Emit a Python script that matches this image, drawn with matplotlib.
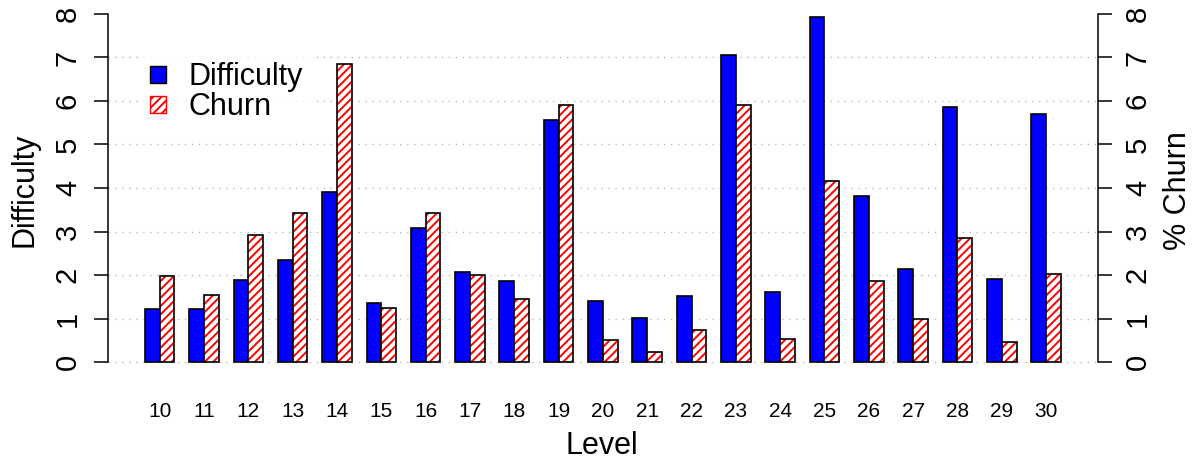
import numpy as np
import matplotlib.pyplot as plt
from matplotlib.patches import Patch

levels = list(range(10, 31))
difficulty = [1.23, 1.23, 1.88, 2.34, 3.90, 1.36, 3.07, 2.07, 1.87, 5.57, 1.41,
              1.02, 1.51, 7.06, 1.60, 7.92, 3.82, 2.15, 5.87, 1.90, 5.69]
churn = [1.97, 1.54, 2.91, 3.43, 6.86, 1.25, 3.43, 2.00, 1.44, 5.91, 0.51,
         0.24, 0.73, 5.91, 0.54, 4.15, 1.87, 0.99, 2.85, 0.46, 2.03]
yticks = list(range(0, 9))

plt.rcParams['font.family'] = ['Liberation Sans', 'DejaVu Sans']
plt.rcParams['hatch.linewidth'] = 1.4

W, H = 1195, 461
fig = plt.figure(figsize=(W / 100, H / 100), dpi=100)
ax = fig.add_axes([108.3 / W, 1 - 376 / H, (1097.5 - 108.3) / W, 376 / H])

# R style barplot: bar width 1, one bar gap between groups
xs = 1 + 3 * np.arange(len(levels))

for y in range(0, 8):
    ax.axhline(y, color='#bbbbbb', lw=1, ls=(0, (1, 4)), zorder=1)

ax.bar(xs, difficulty, width=1, align='edge', color='#0000ff',
       edgecolor='black', lw=1.2, zorder=2)
ax.bar(xs + 1, churn, width=1, align='edge', color='white',
       edgecolor='#ff0000', hatch='////', lw=0, zorder=2)
ax.bar(xs + 1, churn, width=1, align='edge', fill=False,
       edgecolor='black', lw=1.2, zorder=3)

ax.set_xlim(-1.48, 65.48)
ax.set_ylim(-0.32, 8.32)

for s in ['top', 'right', 'bottom']:
    ax.spines[s].set_visible(False)
ax.spines['left'].set_bounds(0, 8)
ax.spines['left'].set_linewidth(1.1)

ax.set_yticks(yticks)
ax.set_yticklabels([str(t) for t in yticks], rotation=90, va='center')
ax.tick_params(axis='y', length=10, width=1.1, pad=9, labelsize=21)

ax.set_xticks(xs + 1)
ax.set_xticklabels([str(l) for l in levels])
ax.tick_params(axis='x', length=0, pad=19, labelsize=15)

ax.set_ylabel('Difficulty', fontsize=22)
ax.yaxis.set_label_coords((40 - 108.3) / 989, (376 - 190) / 376)
ax.set_xlabel('Level', fontsize=22)
ax.xaxis.set_label_coords((602 - 108.3) / 989, -(431 - 376) / 376)

ax2 = ax.twinx()
ax2.set_ylim(-0.32, 8.32)
for s in ['top', 'left', 'bottom']:
    ax2.spines[s].set_visible(False)
ax2.spines['right'].set_bounds(0, 8)
ax2.spines['right'].set_linewidth(1.1)
ax2.set_yticks(yticks)
ax2.set_yticklabels([str(t) for t in yticks], rotation=90, va='center')
ax2.tick_params(axis='y', length=10, width=1.1, pad=9, labelsize=21)
ax2.set_ylabel('% Churn', fontsize=22, rotation=90)
ax2.yaxis.set_label_coords((1163 - 108.3) / 989, (376 - 191) / 376)

handles = [Patch(facecolor='#0000ff', edgecolor='black', lw=1),
           Patch(facecolor='white', edgecolor='#ff0000', hatch='////', lw=1)]
leg = ax.legend(handles, ['Difficulty', 'Churn'], loc='upper left',
                bbox_to_anchor=(33 / 989, 1 - 53 / 376), fontsize=22,
                frameon=True, fancybox=False, handlelength=0.52,
                handleheight=0.5, handletextpad=0.72, labelspacing=0.0,
                borderpad=0.3, borderaxespad=0)
leg.get_frame().set_edgecolor('white')
leg.get_frame().set_linewidth(0)
leg.set_zorder(4)

fig.savefig('out.png', dpi=100)
